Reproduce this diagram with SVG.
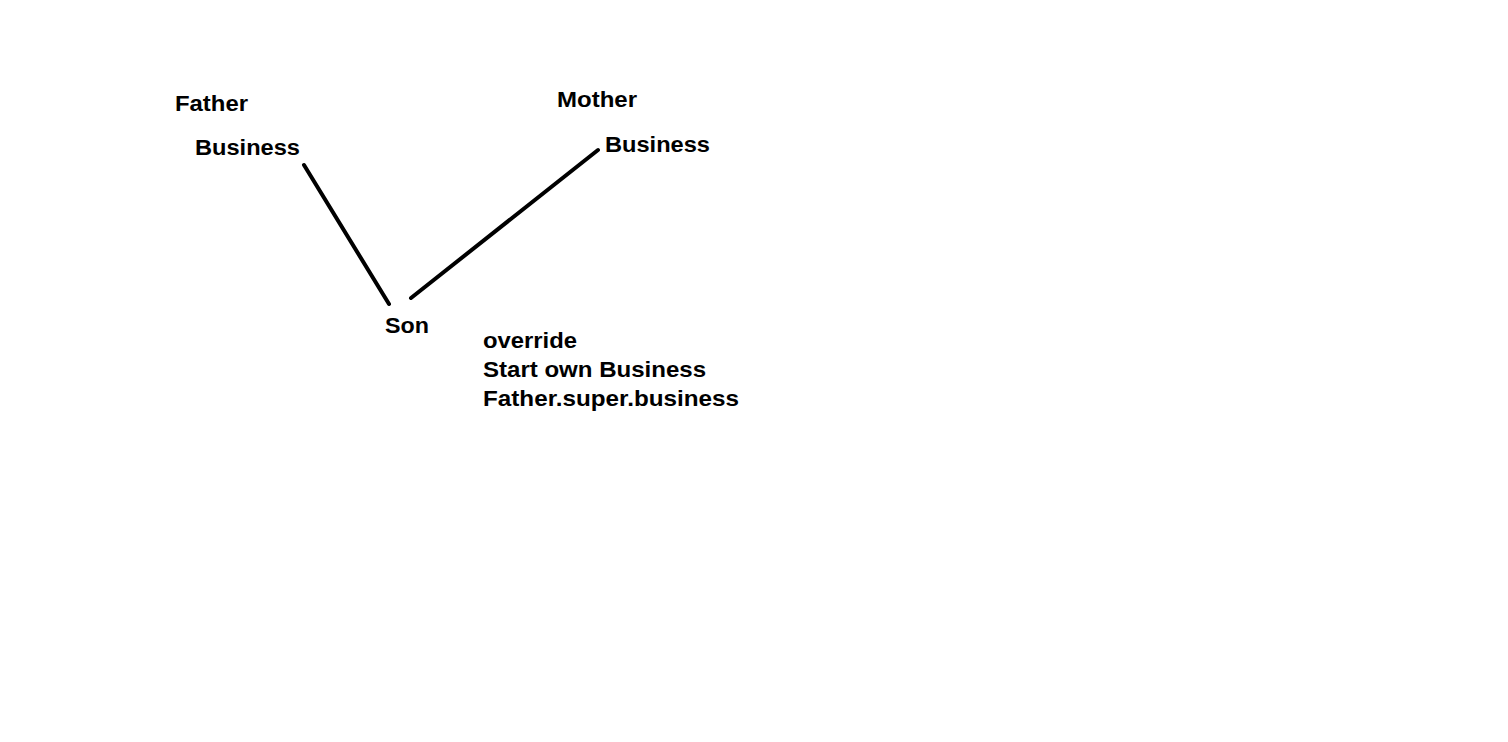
<svg xmlns="http://www.w3.org/2000/svg" width="1508" height="742" viewBox="0 0 1508 742">
<style>
text{font-family:"Liberation Sans",Arial,sans-serif;font-weight:bold;font-size:22px;fill:#000}
.c{stroke:#000;stroke-width:4;stroke-linecap:round;fill:none}
</style>
<rect width="1508" height="742" fill="#fff"/>
<g id="connectors">
<line class="c" x1="304" y1="165" x2="389" y2="304"/>
<line class="c" x1="411" y1="298" x2="598" y2="150"/>
</g>
<g id="father"><text x="175" y="111" textLength="73" lengthAdjust="spacingAndGlyphs">Father</text><text x="195" y="155" textLength="105" lengthAdjust="spacingAndGlyphs">Business</text></g>
<g id="mother"><text x="557" y="107" textLength="80" lengthAdjust="spacingAndGlyphs">Mother</text><text x="605" y="152" textLength="105" lengthAdjust="spacingAndGlyphs">Business</text></g>
<g id="son"><text x="385" y="333" textLength="44" lengthAdjust="spacingAndGlyphs">Son</text></g>
<g id="notes">
<text x="483" y="348" textLength="94" lengthAdjust="spacingAndGlyphs">override</text>
<text x="483" y="377" textLength="223" lengthAdjust="spacingAndGlyphs">Start own Business</text>
<text x="483" y="406" textLength="256" lengthAdjust="spacingAndGlyphs">Father.super.business</text>
</g>
</svg>
